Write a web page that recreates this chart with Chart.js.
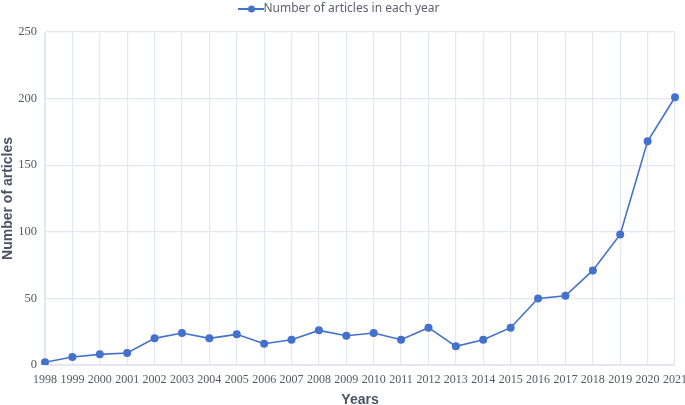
<!DOCTYPE html>
<html><head><meta charset="utf-8">
<script src="https://cdn.jsdelivr.net/npm/chart.js@4/dist/chart.umd.min.js"></script>
<style>html,body{margin:0;padding:0;background:#fff}#wrap{width:685px;height:405px}</style>
</head><body><div id="wrap"><canvas id="c" width="685" height="405"></canvas></div>
<script>
const years = ['1998','1999','2000','2001','2002','2003','2004','2005','2006','2007','2008','2009','2010','2011','2012','2013','2014','2015','2016','2017','2018','2019','2020','2021'];
const articles = [2,6,8,9,20,24,20,23,16,19,26,22,24,19,28,14,19,28,50,52,71,98,168,201];
const yTicks = [0,50,100,150,200,250];
const seriesName = 'Number of articles in each year';

const lineColor = '#4371cb';
const icon = document.createElement('canvas');
icon.width = 26; icon.height = 10;
const ic = icon.getContext('2d');
ic.strokeStyle = lineColor; ic.lineWidth = 2;
ic.beginPath(); ic.moveTo(0,5); ic.lineTo(26,5); ic.stroke();
ic.fillStyle = lineColor; ic.beginPath(); ic.arc(13,5,3.5,0,Math.PI*2); ic.fill();

const legendHeight = {
  id: 'legendHeight',
  beforeInit(chart) {
    const lg = chart.legend;
    if (lg) {
      const orig = lg.fit;
      lg.fit = function() { orig.call(this); this.height = 32; };
    }
  }
};

new Chart(document.getElementById('c'), {
  type: 'line',
  data: { labels: years, datasets: [{
    label: seriesName, data: articles,
    borderColor: lineColor, backgroundColor: lineColor,
    borderWidth: 1.6, pointRadius: 4, pointHoverRadius: 4,
    pointBackgroundColor: lineColor, pointBorderWidth: 0, tension: 0
  }]},
  plugins: [legendHeight],
  options: {
    responsive: false, animation: false, devicePixelRatio: 1,
    layout: { padding: 0 },
    plugins: {
      tooltip: { enabled: false },
      legend: {
        position: 'top',
        labels: {
          usePointStyle: true,
          padding: 3,
          color: '#5a6170',
          font: { family: 'Noto Sans', size: 12 },
          generateLabels: (chart) => [{ text: seriesName, pointStyle: icon, fillStyle: lineColor, strokeStyle: lineColor, lineWidth: 0, datasetIndex: 0, fontColor: '#5a6170' }]
        }
      }
    },
    scales: {
      x: {
        offset: false,
        grid: { color: '#e3e7ef', lineWidth: 1.2, drawTicks: false },
        border: { color: '#e3e7ef' },
        ticks: { color: '#555a63', font: { family: 'Liberation Serif', size: 12 }, padding: 8, maxRotation: 0, autoSkip: false },
        title: { display: true, text: 'Years', color: '#4a5466', font: { family: 'Liberation Sans', size: 14, weight: 'bold' }, padding: { top: 11, bottom: -4 } },
        afterFit: (s) => { s.height = 40; s.paddingRight = 10; s.paddingLeft = 0; }
      },
      y: {
        min: 0, max: 250,
        afterBuildTicks: (s) => { s.ticks = yTicks.map(v => ({ value: v })); },
        grid: { color: '#e3e7ef', lineWidth: 1.2, drawTicks: false },
        border: { color: '#e3e7ef' },
        ticks: { color: '#555a63', font: { family: 'Liberation Serif', size: 12.5 }, padding: 8 },
        title: { display: true, text: 'Number of articles', color: '#4a5466', font: { family: 'Liberation Sans', size: 14, weight: 'bold' }, padding: { top: 0, bottom: 2 } },
        afterFit: (s) => { s.width = 45; s.paddingTop = 0; s.paddingBottom = 0; }
      }
    }
  }
});
</script></body></html>
